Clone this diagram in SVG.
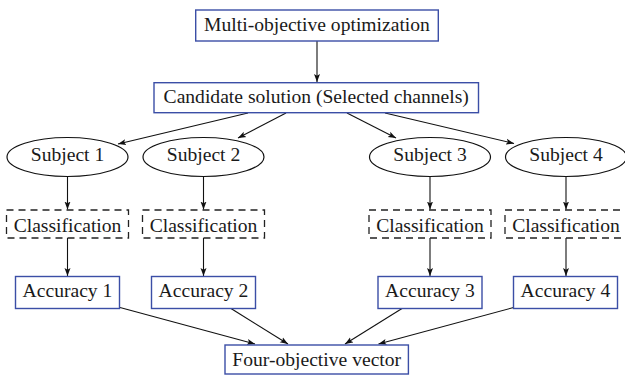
<svg xmlns="http://www.w3.org/2000/svg" width="625" height="376" viewBox="0 0 625 376">
<defs>
<marker id="ah" markerWidth="9" markerHeight="7" refX="8" refY="3.5" orient="auto" markerUnits="userSpaceOnUse">
<path d="M0,0.5 L8,3.5 L0,6.5 L1.8,3.5 z" fill="#111"/>
</marker>
<style>
.box{fill:#fff;stroke:#3b4ea6;stroke-width:1.4}
.dash{fill:#fff;stroke:#222;stroke-width:1.3;stroke-dasharray:7 5}
.ell{fill:#fff;stroke:#111;stroke-width:1.2}
.t{font-family:"Liberation Serif","Times New Roman",serif;font-size:19.6px;fill:#1a1a1a;text-anchor:middle}
.c line{stroke:#111;stroke-width:1.1;marker-end:url(#ah)}
</style>
</defs>
<rect width="625" height="376" fill="#fff"/>
<g class="c" id="connectors">
<line x1="317" y1="41" x2="317" y2="82"/>
<line x1="248" y1="113" x2="118" y2="144"/>
<line x1="286" y1="113" x2="238" y2="138"/>
<line x1="347" y1="113" x2="396" y2="138"/>
<line x1="385" y1="113" x2="514" y2="143.5"/>
<line x1="67.5" y1="176.5" x2="67.5" y2="209.5"/>
<line x1="203.5" y1="176.5" x2="203.5" y2="209.5"/>
<line x1="430" y1="176.5" x2="430" y2="209.5"/>
<line x1="566" y1="176.5" x2="566" y2="209.5"/>
<line x1="67.5" y1="238" x2="67.5" y2="276"/>
<line x1="203.5" y1="238" x2="203.5" y2="276"/>
<line x1="430" y1="238" x2="430" y2="276"/>
<line x1="566" y1="238" x2="566" y2="276"/>
<line x1="120" y1="307.5" x2="255" y2="344"/>
<line x1="231" y1="308.5" x2="288" y2="344"/>
<line x1="402" y1="308.5" x2="345" y2="344"/>
<line x1="513.5" y1="307.5" x2="378.5" y2="344"/>
</g>
<g id="moo"><rect class="box" x="195.7" y="10" width="242.6" height="31"/><text class="t" x="317" y="31">Multi-objective optimization</text></g>
<g id="candidate"><rect class="box" x="154" y="82.7" width="324.5" height="30"/><text class="t" x="316.2" y="103.3">Candidate solution (Selected channels)</text></g>
<g id="subject1"><ellipse class="ell" cx="67.5" cy="157" rx="60.5" ry="19.5"/><text class="t" x="67.5" y="161.3">Subject 1</text></g>
<g id="subject2"><ellipse class="ell" cx="203.5" cy="157" rx="60.5" ry="19.5"/><text class="t" x="203.5" y="161.3">Subject 2</text></g>
<g id="subject3"><ellipse class="ell" cx="430" cy="157" rx="60.5" ry="19.5"/><text class="t" x="430" y="161.3">Subject 3</text></g>
<g id="subject4"><ellipse class="ell" cx="566" cy="157" rx="60.5" ry="19.5"/><text class="t" x="566" y="161.3">Subject 4</text></g>
<g id="class1"><rect class="dash" x="6.5" y="210" width="122" height="28"/><text class="t" x="67.5" y="231.5">Classification</text></g>
<g id="class2"><rect class="dash" x="142.5" y="210" width="122" height="28"/><text class="t" x="203.5" y="231.5">Classification</text></g>
<g id="class3"><rect class="dash" x="369" y="210" width="122" height="28"/><text class="t" x="430" y="231.5">Classification</text></g>
<g id="class4"><rect class="dash" x="505" y="210" width="122" height="28"/><text class="t" x="566" y="231.5">Classification</text></g>
<g id="acc1"><rect class="box" x="15.5" y="276.5" width="104" height="32"/><text class="t" x="67.5" y="297">Accuracy 1</text></g>
<g id="acc2"><rect class="box" x="151.5" y="276.5" width="104" height="32"/><text class="t" x="203.5" y="297">Accuracy 2</text></g>
<g id="acc3"><rect class="box" x="378" y="276.5" width="104" height="32"/><text class="t" x="430" y="297">Accuracy 3</text></g>
<g id="acc4"><rect class="box" x="513.5" y="276.5" width="104" height="32"/><text class="t" x="565.5" y="297">Accuracy 4</text></g>
<g id="vector"><rect class="box" x="225" y="345" width="183.4" height="29"/><text class="t" x="316.7" y="365.5">Four-objective vector</text></g>
</svg>
